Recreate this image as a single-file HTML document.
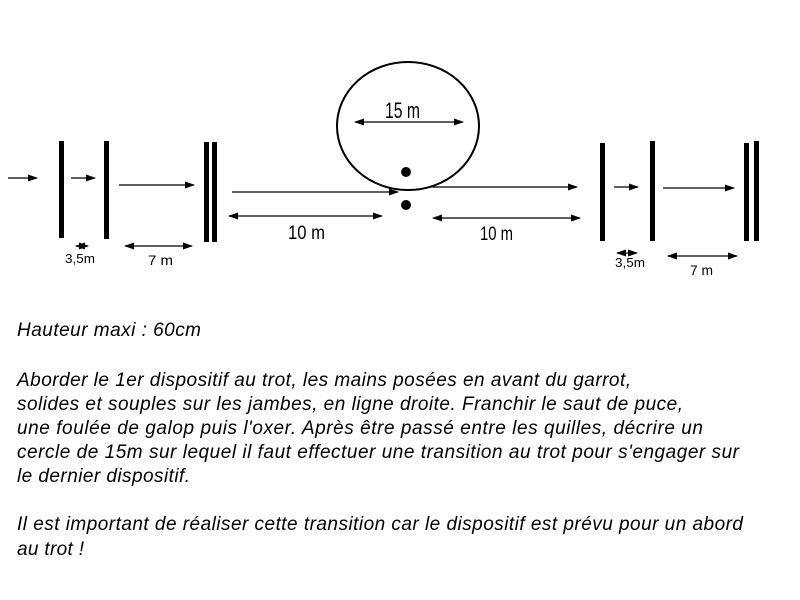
<!DOCTYPE html>
<html><head><meta charset="utf-8"><style>body{margin:0;background:#fff}svg{display:block}</style></head><body>
<svg width="800" height="600" xmlns="http://www.w3.org/2000/svg" font-family="Liberation Sans, sans-serif">
<defs><marker id="a" markerWidth="10" markerHeight="8" refX="9" refY="4" orient="auto-start-reverse" markerUnits="userSpaceOnUse"><path d="M0,0.5L10,4L0,7.5z" fill="#000"/></marker></defs>
<g fill="#000">
<rect x="59" y="141" width="5" height="97"/><rect x="104" y="141" width="5" height="98"/>
<rect x="204" y="142" width="5" height="100"/><rect x="212" y="142" width="5" height="100"/>
<rect x="600" y="143" width="5" height="98"/><rect x="650" y="141" width="5" height="100"/>
<rect x="744" y="143" width="5" height="98"/><rect x="754" y="141" width="5" height="100"/>
<circle cx="406" cy="172" r="5"/><circle cx="406" cy="205" r="5"/>
</g>
<ellipse cx="408" cy="126" rx="71" ry="64" fill="none" stroke="#000" stroke-width="2"/>
<g stroke="#000" stroke-width="1.3" fill="none">
<line x1="8" y1="178" x2="37" y2="178" marker-end="url(#a)"/>
<line x1="71" y1="178" x2="95" y2="178" marker-end="url(#a)"/>
<line x1="119" y1="185" x2="194" y2="185" marker-end="url(#a)"/>
<line x1="232" y1="192" x2="398" y2="192" marker-end="url(#a)"/>
<line x1="229" y1="216" x2="382" y2="216" marker-start="url(#a)" marker-end="url(#a)"/>
<line x1="76" y1="246" x2="88" y2="246" marker-start="url(#a)" marker-end="url(#a)"/>
<line x1="125" y1="246" x2="192" y2="246" marker-start="url(#a)" marker-end="url(#a)"/>
<line x1="355" y1="122" x2="463" y2="122" marker-start="url(#a)" marker-end="url(#a)"/>
<line x1="430" y1="187" x2="577" y2="187" marker-end="url(#a)"/>
<line x1="433" y1="218" x2="580" y2="218" marker-start="url(#a)" marker-end="url(#a)"/>
<line x1="614" y1="187" x2="638" y2="187" marker-end="url(#a)"/>
<line x1="663" y1="188" x2="734" y2="188" marker-end="url(#a)"/>
<line x1="617" y1="253" x2="637" y2="253" marker-start="url(#a)" marker-end="url(#a)"/>
<line x1="668" y1="256" x2="737" y2="256" marker-start="url(#a)" marker-end="url(#a)"/>
</g>
<g fill="#000">
<text x="288" y="239" font-size="19" textLength="37" lengthAdjust="spacingAndGlyphs">10 m</text>
<text x="480" y="240" font-size="19" textLength="33" lengthAdjust="spacingAndGlyphs">10 m</text>
<text x="385" y="118" font-size="22" textLength="35" lengthAdjust="spacingAndGlyphs">15 m</text>
<text x="65" y="263" font-size="13" textLength="30" lengthAdjust="spacingAndGlyphs">3,5m</text>
<text x="148" y="265" font-size="14" textLength="25" lengthAdjust="spacingAndGlyphs">7 m</text>
<text x="615" y="267" font-size="13" textLength="30" lengthAdjust="spacingAndGlyphs">3,5m</text>
<text x="690" y="275" font-size="14" textLength="23" lengthAdjust="spacingAndGlyphs">7 m</text>
</g>
<g font-style="italic" font-size="19" fill="#000" lengthAdjust="spacingAndGlyphs">
<text x="17" y="336" textLength="184">Hauteur maxi : 60cm</text>
<text x="17" y="386" textLength="614">Aborder le 1er dispositif au trot, les mains posées en avant du garrot,</text>
<text x="17" y="410" textLength="666">solides et souples sur les jambes, en ligne droite. Franchir le saut de puce,</text>
<text x="17" y="434" textLength="686">une foulée de galop puis l'oxer. Après être passé entre les quilles, décrire un</text>
<text x="17" y="458" textLength="722">cercle de 15m sur lequel il faut effectuer une transition au trot pour s'engager sur</text>
<text x="17" y="482" textLength="173">le dernier dispositif.</text>
<text x="17" y="530" textLength="726">Il est important de réaliser cette transition car le dispositif est prévu pour un abord</text>
<text x="17" y="555" textLength="67">au trot !</text>
</g>
</svg>
</body></html>
